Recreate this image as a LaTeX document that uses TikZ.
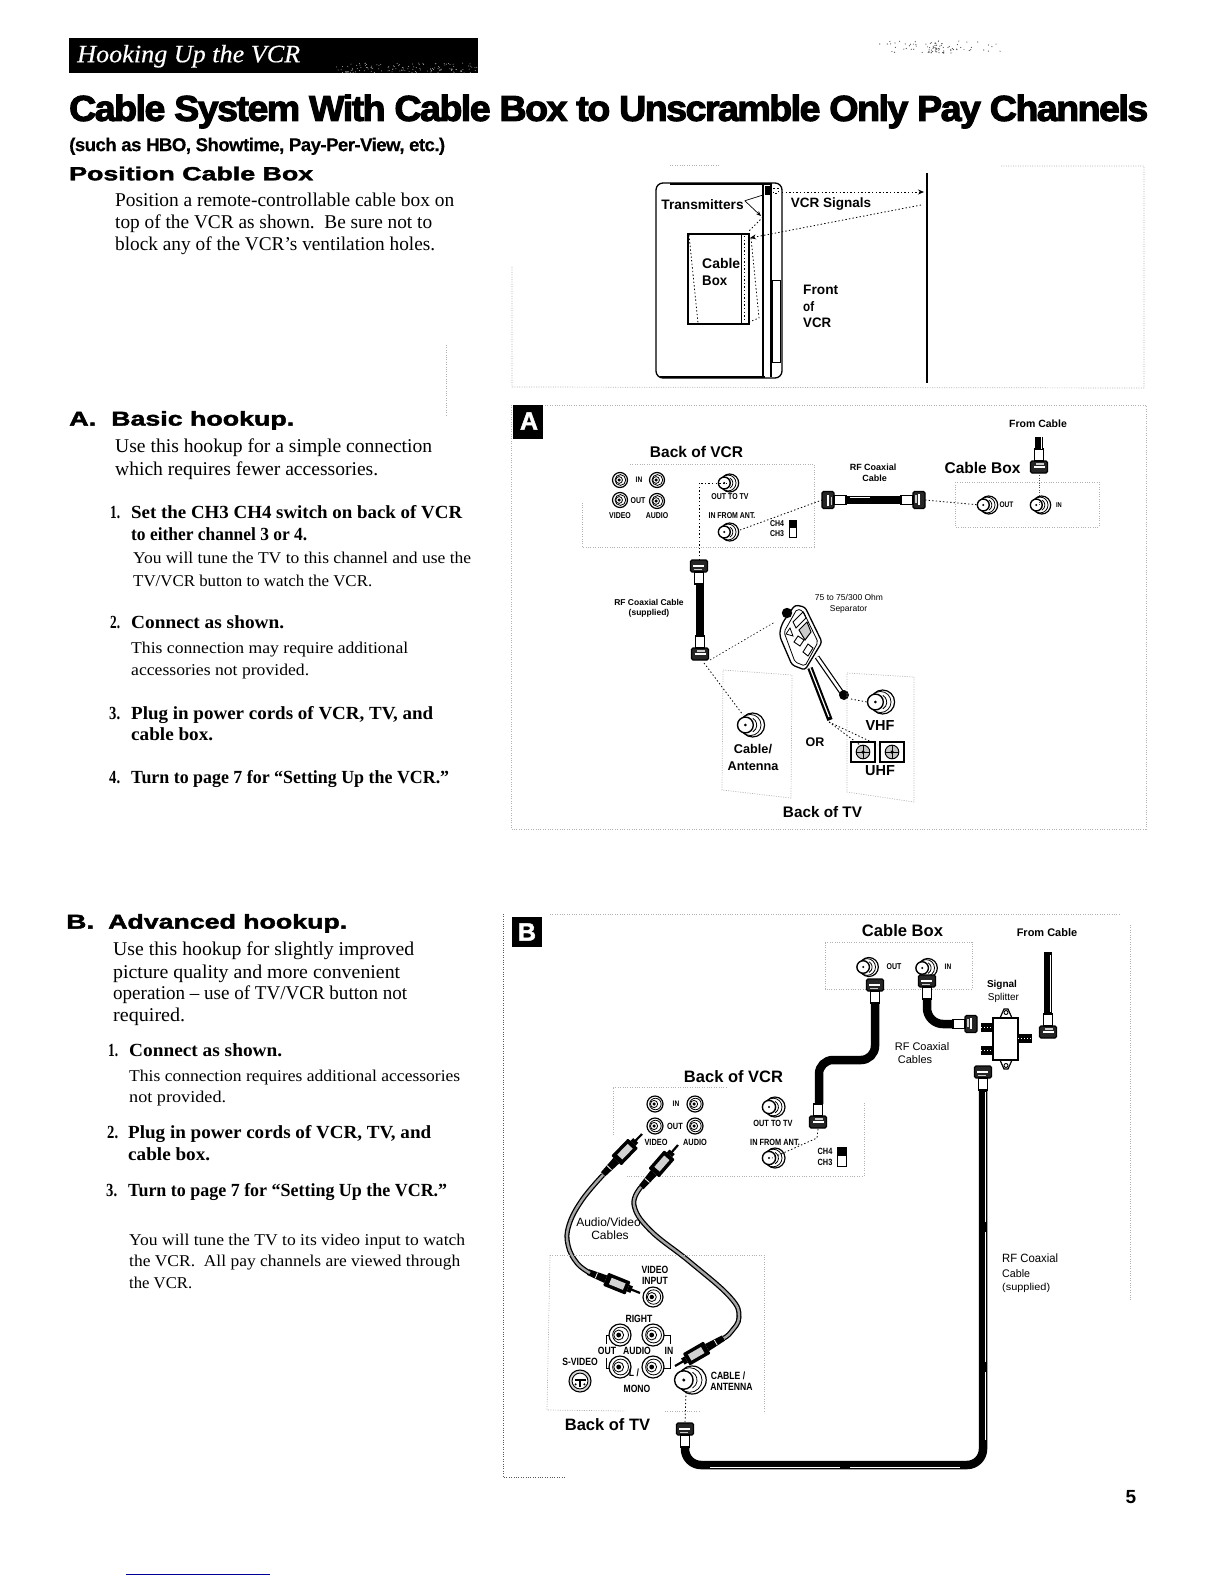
\documentclass[tikz,border=0pt]{standalone}
\usepackage{fontspec}
\usepackage{graphicx}
\usetikzlibrary{arrows.meta}
\setmainfont[ItalicFeatures={FakeBold=.4}]{Liberation Serif}
\newfontfamily\lsans{Liberation Sans}
\newfontfamily\lheavy[BoldFeatures={FakeBold=1.8}]{Liberation Sans}
\newfontfamily\ltitle[LetterSpace=-4,BoldFeatures={FakeBold=3}]{Liberation Sans}
\newfontfamily\lsub[LetterSpace=-3,BoldFeatures={FakeBold=.4}]{Liberation Sans}
\newcommand\myH{\lheavy\bfseries}
\newcommand\myT{\ltitle\bfseries}
\newcommand\myU{\lsub\bfseries}
\newcommand\myS{\lsans\bfseries}
\newcommand\myR{\rmfamily}
\newcommand\myB{\rmfamily\bfseries}
\newcommand\TL[7]{\pgfmathsetlengthmacro\twd{(#4-(#2))*1pt}%
  \node[inner sep=0,anchor=base west] (#1) at (#2,{#3+0.33*#6}) {\resizebox{\twd}{\height}{\fontsize{#6}{#6}\selectfont #5\relax #7}};}
\newcommand\LB[5]{\node[inner sep=0,anchor=base] (#1) at (#2,{#3+0.34*#4}) {\fontsize{#4}{#4}\selectfont\myS #5};}
\newcommand\LR[5]{\node[inner sep=0,anchor=base] (#1) at (#2,{#3+0.34*#4}) {\fontsize{#4}{#4}\selectfont\lsans #5};}
% condensed bold label: name, cx, cy, size, text
\newcommand\LC[5]{\node[inner sep=0,anchor=base] (#1) at (#2,{#3+0.34*#4}) {\scalebox{.82}[1]{\fontsize{#4}{#4}\selectfont\myS #5}};}
\newcommand\Con[5]{\coordinate (#1) at (#2,#3); \pic[scale=#4] at (#1) {#5};}
\newcommand\Plug[4]{\coordinate (#1) at (#2,#3); \pic[rotate=#4] at (#1) {fplug};}
\newcommand\Rplug[4]{\coordinate (#1) at (#2,#3); \pic[rotate=#4] at (#1) {rcaplug};}
\tikzset{
  frame/.style={gray!60,line width=.7,dash pattern=on 1 off 1.4},
  sig/.style={black,line width=.8,dash pattern=on 1.4 off 2.2},
  coaxc/.style={black,line width=8.5,line cap=butt},
  coaxhi/.style={white,line width=1,dash pattern=on 130 off 10},
  avblack/.style={black,line width=5},
  avgray/.style={gray!70,line width=2.4},
  rca/.pic={
    \draw[line width=1.2,fill=white] (0,0) circle (1);
    \draw[line width=.8] (.05,0) circle (.72);
    \draw[line width=.8] (-.12,0) circle (.45);
    \fill (-.12,0) circle (.22);},
  coax/.pic={
    \draw[line width=1.2,fill=white] (.3,0) circle (1);
    \draw[line width=.8] (.12,0) circle (.88);
    \draw[line width=.8] (.32,-.55) arc (-60:60:.65);
    \draw[line width=1.4,fill=white] (-.3,0) circle (.66);
    \fill (-.3,0) circle (.12);},
  fplug/.pic={
    \draw[line width=1.3,fill=black!85] (-8.5,1.5) -- (-7,0) -- (7,0) -- (8.5,1.5) -- (8.5,10.5) -- (7,12) -- (-7,12) -- (-8.5,10.5) -- cycle;
    \fill[white] (-6,5) rectangle (5,7);
    \fill[gray!40] (-5,8.5) rectangle (3,10);
    \draw[line width=1.4,fill=white] (-4.5,12) rectangle (4.5,24);},
  rcaplug/.pic={
    \draw[line width=2.2] (0,0) -- (0,11);
    \fill (-3.5,9) rectangle (3.5,13);
    \fill[rounded corners=1] (-7,13) rectangle (7,37);
    \fill[gray!35] (-3.5,17) rectangle (3.5,32);
    \fill (-4,37) -- (4,37) -- (3,56) -- (-3,56) -- cycle;
    \draw[white,line width=.8] (-3,47) -- (3,47);},
  uhft/.pic={
    \draw[line width=1.3,fill=white] (-1.1,-.9) rectangle (1.1,.9);
    \draw[line width=1,fill=gray!45] (0,0) circle (.62);
    \draw[line width=1] (-.6,0) -- (.6,0) (0,-.6) -- (0,.6);
    \fill (0,0) circle (.16);},
  svid/.pic={
    \draw[line width=1.1,fill=gray!30] (0,0) circle (1);
    \draw[line width=.9,fill=white] (0,0) circle (.72);
    \draw[line width=1.4] (-.5,-.1) -- (.5,-.1) (0,-.1) -- (0,.55);
    \fill (-.4,.3) circle (.1) (.4,.3) circle (.1);},
}
\begin{document}
\begin{tikzpicture}[x=1pt,y=-1pt]
\useasboundingbox (0,0) rectangle (1224,1584);
% header
\fill[black] (69,38) rectangle (478,73);
\TL{hdr}{77}{54}{300}{\myR\itshape\color{white}}{25}{Hooking Up the VCR}
\pgfmathsetseed{7}
\foreach \i in {1,...,90}{
  \pgfmathsetmacro\xa{935+75*rand*abs(rand)}
  \pgfmathsetmacro\ya{47+6*rand}
  \fill[black!70] (\xa,\ya) circle (.6);}
\foreach \i in {1,...,130}{
  \pgfmathsetmacro\xa{405+72*rand}
  \pgfmathsetmacro\ya{68+5*rand}
  \fill[gray!60] (\xa,\ya) circle (.5);}
% title
\TL{title}{69}{109}{1148}{\myT}{36}{Cable System With Cable Box to Unscramble Only Pay Channels}
\TL{subt}{69}{145}{445}{\myU}{18.5}{(such as HBO, Showtime, Pay-Per-View, etc.)}
% position
\TL{poshd}{69}{174}{313}{\myH}{19}{Position Cable Box}
\TL{p1}{115}{200}{454}{\myR}{19.5}{Position a remote-controllable cable box on}
\TL{p2}{115}{222}{432}{\myR}{19.5}{top of the VCR as shown.\ \ Be sure not to}
\TL{p3}{115}{244}{435}{\myR}{19.5}{block any of the VCR's ventilation holes.}
% A text
\TL{ahdA}{69}{419}{96}{\myH}{20}{A.}
\TL{ahdB}{111}{419}{294}{\myH}{20}{Basic hookup.}
\TL{a1}{115}{446}{432}{\myR}{19.5}{Use this hookup for a simple connection}
\TL{a2}{115}{469}{378}{\myR}{19.5}{which requires fewer accessories.}
\TL{an1}{110}{512}{120}{\myB}{18.5}{1.}
\TL{a3}{131}{512}{462}{\myB}{18.5}{Set the CH3 CH4 switch on back of VCR}
\TL{a4}{131}{534}{307}{\myB}{18.5}{to either channel 3 or 4.}
\TL{a5}{133}{558}{471}{\myR}{16.5}{You will tune the TV to this channel and use the}
\TL{a6}{133}{581}{372}{\myR}{16.5}{TV/VCR button to watch the VCR.}
\TL{an2}{110}{622}{120}{\myB}{18.5}{2.}
\TL{a7}{131}{622}{284}{\myB}{18.5}{Connect as shown.}
\TL{a8}{131}{648}{408}{\myR}{16.5}{This connection may require additional}
\TL{a9}{131}{670}{309}{\myR}{16.5}{accessories not provided.}
\TL{an3}{109}{713}{120}{\myB}{18.5}{3.}
\TL{a10}{131}{713}{433}{\myB}{18.5}{Plug in power cords of VCR, TV, and}
\TL{a11}{131}{734}{213}{\myB}{18.5}{cable box.}
\TL{an4}{109}{777}{120}{\myB}{18.5}{4.}
\TL{a12}{131}{777}{449}{\myB}{18.5}{Turn to page 7 for ``Setting Up the VCR.''}
% B text
\TL{bhdA}{66}{922}{94}{\myH}{20}{B.}
\TL{bhdB}{108}{922}{347}{\myH}{20}{Advanced hookup.}
\TL{b1}{113}{949}{414}{\myR}{19.5}{Use this hookup for slightly improved}
\TL{b2}{113}{972}{400}{\myR}{19.5}{picture quality and more convenient}
\TL{b3}{113}{993}{407}{\myR}{19.5}{operation -- use of TV/VCR button not}
\TL{b4}{113}{1015}{185}{\myR}{19.5}{required.}
\TL{bn1}{108}{1050}{118}{\myB}{18.5}{1.}
\TL{b5}{129}{1050}{282}{\myB}{18.5}{Connect as shown.}
\TL{b6}{129}{1076}{460}{\myR}{16.5}{This connection requires additional accessories}
\TL{b7}{129}{1097}{226}{\myR}{16.5}{not provided.}
\TL{bn2}{107}{1132}{118}{\myB}{18.5}{2.}
\TL{b8}{128}{1132}{431}{\myB}{18.5}{Plug in power cords of VCR, TV, and}
\TL{b9}{128}{1154}{210}{\myB}{18.5}{cable box.}
\TL{bn3}{106}{1190}{117}{\myB}{18.5}{3.}
\TL{b10}{128}{1190}{447}{\myB}{18.5}{Turn to page 7 for ``Setting Up the VCR.''}
\TL{b11}{129}{1240}{465}{\myR}{16.5}{You will tune the TV to its video input to watch}
\TL{b12}{129}{1261}{460}{\myR}{16.5}{the VCR.\ \ All pay channels are viewed through}
\TL{b13}{129}{1283}{192}{\myR}{16.5}{the VCR.}
\LB{pg}{1131}{1497}{19}{5}
\draw[blue!60!black,line width=.8] (126,1574) -- (270,1574);
\draw[frame] (446,345) -- (446,415);
% ===== top panel
\draw[frame] (512,267) -- (512,387) -- (1144,388) -- (1144,166) -- (1000,166);
\draw[frame] (670,165) -- (720,165);
\draw[line width=1.3,fill=white,rounded corners=7] (656,183) rectangle (782,378);
\draw[line width=2.2] (670,184) -- (772,184);
\draw[line width=1.1] (763,185) -- (763,377);
\draw[line width=1.1] (771,185) -- (771,377);
\draw[line width=2] (660,377) -- (765,377);
\draw[line width=.9] (772,280) rectangle (780,362);
\fill (765,186) rectangle (770,195);
\draw[sig,line width=.6] (773,188) rectangle (778,193);
\draw[line width=1.5,fill=white] (688,234) rectangle (749,324);
\draw[line width=.9] (741,234) -- (741,324);
\draw[sig] (689,235) -- (698,323);
\draw[sig] (744,236) -- (744,322);
\draw[sig] (751,238) -- (759,318) -- (749,322);
\coordinate (scrT) at (927,173);
\coordinate (scrB) at (927,383);
\draw[line width=2.6] (scrT) -- (scrB);
\coordinate (txA) at (782,192);
\coordinate (txB) at (924,192);
\draw[sig,-{Stealth[length=6,width=5]}] (txA) -- (txB);
\coordinate (rxA) at (921,205);
\coordinate (rxB) at (750,238);
\draw[sig,-{Stealth[length=6,width=5]}] (rxA) -- (rxB);
\draw[sig] (763,217) -- (748,232);
\LB{trans}{702.5}{205}{13.7}{Transmitters}
\draw[line width=.7] (trans.east) ++(1,-4) -- (763,195);
\draw[line width=.7,-{Stealth[length=5,width=4]}] (trans.east) ++(1,-4) -- (761,216);
\LB{vsig}{831}{203}{13.5}{VCR Signals}
\TL{cbA}{702}{264}{740}{\myS}{14}{Cable}
\TL{cbB}{702}{281}{727}{\myS}{14}{Box}
\TL{fvA}{803}{290}{838}{\myS}{13.7}{Front}
\TL{fvB}{803}{307}{814}{\myS}{13.7}{of}
\TL{fvC}{803}{323}{831}{\myS}{13.7}{VCR}
% ===== panel A
\draw[frame] (545,405) -- (1146,405) -- (1146,829) -- (511,829) -- (511,405);
\fill[black] (513,405) rectangle (543,439);
\node[inner sep=0,white,font=\fontsize{25}{25}\selectfont\myH] (boxA) at (529,421) {A};
\LB{abv}{696.5}{452}{15.5}{Back of VCR}
\draw[frame] (630,464) -- (814,464) -- (814,547) -- (582,547) -- (582,503);
\Con{aiv}{620}{480}{7.5}{rca} \Con{aia}{657}{480}{7.5}{rca}
\Con{aov}{620}{500}{7.5}{rca} \Con{aoa}{657}{501}{7.5}{rca}
\LC{ain}{639}{480}{8}{IN} \LC{aout}{638}{501}{8.5}{OUT}
\LC{avid}{620}{516}{8.5}{VIDEO} \LC{aaud}{657}{516}{8.5}{AUDIO}
\Con{aot}{727}{483}{9}{coax} \LC{aott}{730}{497}{8.5}{OUT TO TV}
\Con{aif}{727}{532}{9}{coax} \LC{aift}{732}{516}{8.5}{IN FROM ANT.}
\LC{ach4}{777}{524}{8.5}{CH4} \LC{ach3}{777}{534}{8.5}{CH3}
\draw[line width=.8] (789,520) rectangle (796,537);
\fill (789,520) rectangle (796,528);
% coax A horizontal
\Plug{ahL}{822}{500}{90}
\Plug{ahR}{925}{500}{-90}
\draw[coaxc] (846,500) -- (901,500);
\draw[white,line width=.7] (850,497) -- (870,497);
\draw[sig] (aif) ++(13,-2) -- (ahL);
\draw[sig] (ahR) -- (980,505);
\LB{arf1}{873}{467}{9}{RF Coaxial}
\LB{arf2}{874.5}{478}{9}{Cable}
\LB{acb}{982.5}{468}{15.5}{Cable Box}
\LB{afc}{1038}{424}{10.5}{From Cable}
\draw[frame] (955,482) -- (1099,482) -- (1099,527) -- (955,527) -- cycle;
\Con{acbo}{986}{505}{9}{coax} \LC{acbot}{1006.5}{505}{8}{OUT}
\Con{acbi}{1039}{505}{9}{coax} \LC{acbit}{1059}{505}{7}{IN}
\Plug{afp}{1039}{473}{180}
\draw[coaxc,line width=8] (1039,437) -- (1039,449);
\draw[white,line width=.7] (1041,437) -- (1041,449);
\draw[frame,black!70] (afp) -- (acbi);
% coax A vertical
\Plug{avT}{699}{560}{0}
\Plug{avB}{700}{660}{180}
\draw[coaxc] (700,584) -- (700,636);
\draw[sig] (avT) -- (699,483) -- (aot);
\LB{arf3}{649}{603}{8.5}{RF Coaxial Cable}
\LB{arf4}{649}{613}{8.5}{(supplied)}
\LR{asep1}{849}{598}{8.5}{75 to 75/300 Ohm}
\LR{asep2}{848.5}{609}{8.5}{Separator}
% separator
\draw[sig,line width=.6] (710,660) -- (775,622);
\draw[sig] (704,663) -- (743,715);
\draw[line width=5.5] (810,668) -- (830,720);
\draw[white,line width=1.2] (810,668) -- (829,717);
\draw[line width=5] (817,657) -- (842,693);
\draw[white,line width=2.6] (817,657) -- (842,693);
\draw[line width=1.3,fill=white,rounded corners=3] (780,630) -- (783,622) -- (795,605) -- (805,607) -- (822,642) -- (805,670) -- (792,665) -- (780,637) -- cycle;
\draw[line width=.8,rounded corners=2] (784,632) -- (797,609) -- (803,611) -- (818,642) -- (805,666) -- (795,662) -- cycle;
\draw[line width=.9] (793,622) -- (803,612) -- (806,618) -- (796,628) -- cycle;
\draw[line width=.8] (786,634) -- (790,628) -- (793,636) -- cycle;
\draw[line width=1,fill=gray!40] (807,622) -- (811,632) -- (805,640) -- (799,630) -- cycle;
\draw[line width=.9] (798,636) -- (804,640) -- (800,646) -- (794,642) -- cycle;
\draw[line width=.9] (808,644) -- (813,648) -- (808,656) -- (803,652) -- cycle;
\fill (787,613) circle (5.2);
\fill (844,695) circle (5);
\draw[frame] (723,670) -- (792,675) -- (791,798) -- (722,790) -- cycle;
\draw[frame] (847,673) -- (914,677) -- (914,802) -- (847,792) -- cycle;
\Con{acant}{749}{725}{12}{coax}
\Con{avhf}{879}{702}{12}{coax}
\LB{act1}{753}{749}{12.7}{Cable/}
\LB{act2}{753}{766}{12.7}{Antenna}
\LB{avhft}{880}{726}{14.5}{VHF}
\LB{auhft}{880}{771}{14.5}{UHF}
\LB{aor}{815}{742}{12.5}{OR}
\LB{abtv}{822.5}{812}{15.3}{Back of TV}
\Con{auh1}{863}{752}{11}{uhft}
\Con{auh2}{892}{752}{11}{uhft}
\draw[sig] (851,699) -- (867,702);
\draw[sig] (829,722) -- (878,745);
\draw[sig] (829,722) -- (860,745);
% ===== panel B
\draw[frame] (550,914) -- (1121,914);
\draw[frame] (1130,925) -- (1130,1300);
\draw[frame,black!65] (503,914) -- (503,1477) -- (566,1477);
\fill[black] (512,917) rectangle (542,947);
\node[inner sep=0,white,font=\fontsize{25}{25}\selectfont\myH] (boxB) at (527,932) {B};
\LB{bcb}{902.5}{931}{16.6}{Cable Box}
\LB{bfc}{1047}{933}{11}{From Cable}
\draw[frame] (825,942) -- (972,942) -- (972,989) -- (825,989) -- cycle;
\Con{bcbo}{866}{967}{9.5}{coax} \LC{bcbot}{894}{967}{8.5}{OUT}
\Con{bcbi}{925}{968}{9.5}{coax} \LC{bcbit}{948}{967}{8}{IN}
\Plug{bpo}{875}{979}{0}
\Plug{bpv}{818}{1128}{180}
\draw[coaxc,rounded corners=14] (875,1003) -- (875,1060) -- (819,1060) -- (819,1104);
\Plug{bpi}{927}{975}{0}
\Plug{bpx}{977}{1024}{-90}
\draw[coaxc,rounded corners=16] (927,999) -- (927,1024) -- (953,1024);
% splitter
\draw[line width=1.2,fill=white] (1000,1018) -- (1004,1009) -- (1008,1009) -- (1012,1018) -- cycle;
\draw[line width=1.2,fill=white] (1000,1060) -- (1004,1069) -- (1008,1069) -- (1012,1060) -- cycle;
\draw[line width=.9] (1006,1012.5) circle (2) (1006,1065.5) circle (2);
\draw[line width=2.4,fill=white] (993,1018) rectangle (1018,1060);
\foreach \ya/\xa/\xb in {1027/981/993,1050/981/993,1038/1018/1032}{
  \draw[line width=9] (\xa,\ya) -- (\xb,\ya);
  \draw[white,line width=1,dash pattern=on 1 off 2] (\xa,\ya) -- (\xb,\ya);}
\LB{bsg1}{1002}{984}{10}{Signal}
\LR{bsg2}{1003.5}{997}{10}{Splitter}
\Plug{bfp}{1048}{1038}{180}
\draw[coaxc] (1048,952) -- (1048,1014);
\draw[white,line width=.9] (1050,955) -- (1050,1012);
\LR{brf1}{922}{1047}{11}{RF Coaxial}
\LR{brf2}{915}{1060}{11}{Cables}
% long cable
\Plug{bps}{983}{1066}{0}
\Plug{bpt}{685}{1423}{0}
\draw[coaxc,rounded corners=16] (983,1090) -- (983,1465) -- (685,1465) -- (685,1447);
\draw[coaxhi] (985.2,1092) -- (985.2,1440);
\draw[coaxhi] (710,1467) -- (960,1467);
\LB{bvcr}{733.5}{1077}{16.5}{Back of VCR}
\draw[frame] (613,1135) -- (613,1087) -- (727,1087);
\draw[frame] (864,1103) -- (864,1176) -- (627,1176);
\Con{biv}{655}{1104}{8}{rca} \Con{bia}{695}{1104}{8}{rca}
\Con{bov}{655}{1126}{8}{rca} \Con{boa}{695}{1126}{8}{rca}
\LC{bin}{676}{1104}{8}{IN} \LC{bout}{675}{1126}{9}{OUT}
\LC{bvid}{656}{1142}{9}{VIDEO} \LC{baud}{695}{1142}{9}{AUDIO}
\Con{bot}{772}{1107}{10}{coax} \LC{bott}{773}{1123}{9}{OUT TO TV}
\Con{bif}{772}{1158}{10}{coax} \LC{bift}{775}{1142}{9}{IN FROM ANT.}
\LC{bch4}{825}{1151}{9}{CH4} \LC{bch3}{825}{1162}{9}{CH3}
\draw[line width=.8] (837,1147) rectangle (846,1166);
\fill (837,1147) rectangle (846,1156);
\draw[sig] (bpv) ++(0,1) -- (817,1138) -- (bif);
% AV cables
\Rplug{pvv}{642}{1134}{-44}
\Rplug{pva}{678}{1145}{-41}
\Rplug{ptv}{640}{1293}{-112}
\Rplug{pta}{675}{1366}{120}
\draw[avblack] plot[smooth,tension=.7] coordinates {(603,1175) (582,1200) (569,1225) (568,1245) (577,1263) (590,1273)};
\draw[avgray] plot[smooth,tension=.7] coordinates {(603,1175) (582,1200) (569,1225) (568,1245) (577,1263) (590,1273)};
\draw[avblack] plot[smooth,tension=.7] coordinates {(641,1187) (634,1205) (650,1230) (690,1262) (730,1297) (739,1317) (731,1332) (724,1338)};
\draw[avgray] plot[smooth,tension=.7] coordinates {(641,1187) (634,1205) (650,1230) (690,1262) (730,1297) (739,1317) (731,1332) (724,1338)};
\LR{bav1}{608.5}{1222}{12}{Audio/Video}
\LR{bav2}{610}{1235}{12}{Cables}
% TV back B
\draw[frame] (550,1255) -- (764,1255) -- (764,1413);
\draw[frame] (550,1255) -- (547,1410) -- (625,1411);
\draw[frame] (665,1411) -- (700,1411);
\LC{bvi1}{655}{1270}{10.5}{VIDEO}
\LC{bvi2}{655}{1281}{10.5}{INPUT}
\Con{bvin}{653}{1297}{10}{rca}
\LC{brig}{639}{1319}{10.5}{RIGHT}
\Con{ba1}{620}{1335}{11}{rca} \Con{ba2}{653}{1335}{11}{rca}
\Con{ba3}{620}{1367}{11}{rca} \Con{ba4}{653}{1367}{11}{rca}
\draw[line width=1] (609,1335) -- (606,1335) -- (606,1344);
\draw[line width=1] (606,1358) -- (606,1368) -- (609,1368);
\draw[line width=1] (664,1335) -- (670,1335) -- (670,1344);
\draw[line width=1] (670,1357) -- (670,1368) -- (664,1368);
\LC{baout}{607}{1351}{10.5}{OUT} \LC{baaud}{637}{1351}{10.5}{AUDIO} \LC{bain}{669}{1351}{10.5}{IN}
\LC{bsv}{580}{1362}{10.5}{S-VIDEO}
\Con{bsvc}{580}{1381}{11}{svid}
\LC{bl}{634}{1373}{10.5}{L /} \LC{bmono}{637}{1389}{10.5}{MONO}
\Con{bant}{688}{1380}{14}{coax}
\LC{bct1}{728}{1376}{10.5}{CABLE /}
\LC{bct2}{731.5}{1387}{10.5}{ANTENNA}
\draw[sig] (686,1392) -- (bpt);
\LB{bbtv}{607.5}{1425}{16.5}{Back of TV}
\TL{brfa}{1002}{1259}{1058}{\lsans}{12}{RF Coaxial}
\TL{brfb}{1002}{1274}{1030}{\lsans}{11}{Cable}
\TL{brfc}{1002}{1287}{1050}{\lsans}{10}{(supplied)}
\end{tikzpicture}
\end{document}
